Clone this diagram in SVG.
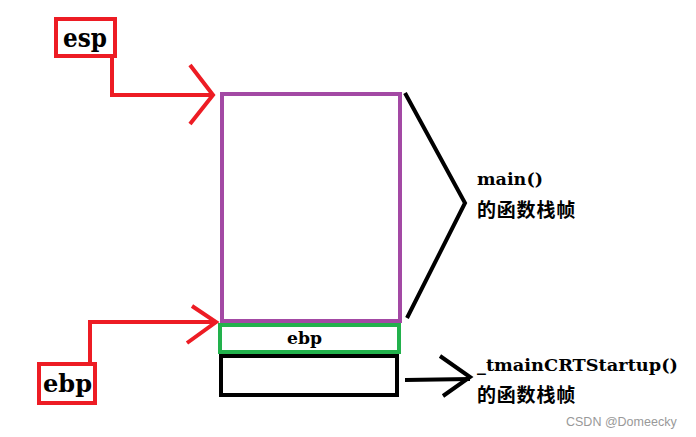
<svg xmlns="http://www.w3.org/2000/svg" width="696" height="437" viewBox="0 0 696 437">
<style>
.red{fill:none;stroke:#ed1c24;stroke-width:4}
.blk{fill:none;stroke:#000;stroke-width:4}
.lbl{font-family:"DejaVu Serif","Noto Sans CJK SC",serif;font-weight:bold;fill:#000}
.cjk{font-family:"Noto Sans CJK SC",sans-serif;font-weight:bold;fill:#000;font-size:19px;letter-spacing:0.8px}
</style>
<rect width="696" height="437" fill="#fff"/>
<g id="esp">
<rect class="red" x="56" y="19" width="59" height="37"/>
<text class="lbl" x="63" y="47" font-size="26" textLength="44" lengthAdjust="spacingAndGlyphs">esp</text>
</g>
<g id="ebp">
<rect class="red" x="39" y="364" width="56" height="39"/>
<text class="lbl" x="43" y="392" font-size="25" textLength="49" lengthAdjust="spacingAndGlyphs">ebp</text>
</g>
<g id="main-frame">
<rect x="222" y="94" width="178" height="227" fill="none" stroke="#a349a4" stroke-width="4"/>
</g>
<g id="ebp-slot">
<rect x="220" y="325" width="179" height="27" fill="none" stroke="#22b14c" stroke-width="4"/>
<text class="lbl" x="287" y="344" font-size="17" textLength="35" lengthAdjust="spacingAndGlyphs">ebp</text>
</g>
<g id="crt-frame">
<rect class="blk" x="221" y="356" width="176" height="39"/>
</g>
<g id="main-label">
<text class="lbl" x="477" y="185" font-size="17" textLength="66" lengthAdjust="spacingAndGlyphs">main()</text>
<text class="cjk" x="477" y="217">的函数栈帧</text>
</g>
<g id="crt-label">
<text class="lbl" x="477" y="371" font-size="17" textLength="201" lengthAdjust="spacingAndGlyphs">_tmainCRTStartup()</text>
<text class="cjk" x="477" y="402">的函数栈帧</text>
</g>
<g id="connectors">
<polyline class="red" points="112,57 112,95 213,95"/>
<polyline class="red" points="190,65 213,95 190,124"/>
<polyline class="red" points="90,362 90,322 215,322"/>
<polyline class="red" points="192,306 216,322 187,343"/>
<polyline class="blk" points="405,93 465,203 407,318"/>
<line class="blk" x1="405" y1="380" x2="470" y2="379"/>
<polyline class="blk" points="440,356 470,377 443,396"/>
</g>
<text x="566" y="426" font-family="'Liberation Sans',sans-serif" font-size="12.5" fill="#999">CSDN @Domeecky</text>
</svg>
